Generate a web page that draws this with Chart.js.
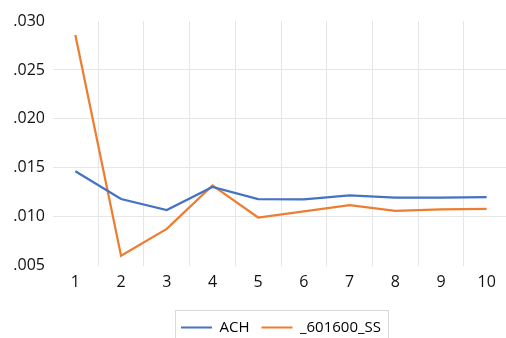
<!DOCTYPE html>
<html>
<head>
<meta charset="utf-8">
<script src="https://cdn.jsdelivr.net/npm/chart.js@4"></script>
<style>
  html, body { margin: 0; padding: 0; background: #fff; overflow: hidden; }
  #wrap { width: 520px; height: 346px; }
</style>
</head>
<body>
<div id="wrap"><canvas id="c" width="520" height="346"></canvas></div>
<script>
// Horizons and the two response series
const periods = ['1', '2', '3', '4', '5', '6', '7', '8', '9', '10'];
const achValues = [0.01465, 0.01182, 0.01069, 0.01305, 0.01182, 0.01178, 0.01219, 0.01195, 0.01195, 0.01202];
const ssValues = [0.02858, 0.00603, 0.00877, 0.01321, 0.00993, 0.01055, 0.01120, 0.01062, 0.01075, 0.01082];
const seriesNames = ['ACH', '_601600_SS'];
const yTickValues = [0.005, 0.010, 0.015, 0.020, 0.025, 0.030];

const FONT = "'Open Sans', 'DejaVu Sans', sans-serif";
const GRID = '#e6e6e6';

// Thin frame around the legend row
const legendFrame = {
  id: 'legendFrame',
  afterDraw(chart) {
    const boxes = chart.legend && chart.legend.legendHitBoxes;
    if (!boxes || !boxes.length) return;
    const left = Math.min(...boxes.map(b => b.left)) - 6;
    const right = Math.max(...boxes.map(b => b.left + b.width)) + 7;
    const top = boxes[0].top - 10.5;
    const ctx = chart.ctx;
    ctx.save();
    ctx.strokeStyle = '#d9d9d9';
    ctx.lineWidth = 1;
    ctx.strokeRect(Math.round(left) + 0.5, Math.round(top) + 0.5, Math.round(right - left), 40);
    ctx.restore();
  }
};

new Chart(document.getElementById('c'), {
  type: 'line',
  data: {
    labels: periods,
    datasets: [
      { label: seriesNames[0], data: achValues, borderColor: '#4472C4', backgroundColor: '#4472C4',
        borderWidth: 2.25, pointRadius: 0, tension: 0 },
      { label: seriesNames[1], data: ssValues, borderColor: '#ED7D31', backgroundColor: '#ED7D31',
        borderWidth: 2.25, pointRadius: 0, tension: 0 }
    ]
  },
  options: {
    responsive: false,
    animation: false,
    layout: { padding: { top: 21, right: 10.5, bottom: 1, left: 0 } },
    plugins: {
      tooltip: { enabled: false },
      legend: {
        position: 'bottom',
        fullSize: false,
        labels: {
          font: { family: FONT, size: 15 },
          color: '#111',
          boxWidth: 31,
          boxHeight: 2,
          padding: 12,
          generateLabels(chart) {
            return chart.data.datasets.map((ds, i) => ({
              text: ds.label,
              fillStyle: ds.borderColor,
              strokeStyle: ds.borderColor,
              lineWidth: 0,
              hidden: false,
              datasetIndex: i
            }));
          }
        }
      }
    },
    scales: {
      x: {
        type: 'category',
        offset: true,
        border: { display: false },
        grid: {
          offset: true,
          drawTicks: false,
          lineWidth: 1,
          color: ctx => (ctx.index === 0 ? 'rgba(0,0,0,0)' : GRID)
        },
        ticks: { font: { family: FONT, size: 16 }, color: '#111', padding: 7.5, maxRotation: 0 },
        afterFit(scale) { scale.height += 8; }
      },
      y: {
        min: 0.005,
        max: 0.030,
        border: { display: false },
        grid: {
          drawTicks: false,
          lineWidth: 1,
          color: ctx => {
            const v = ctx.tick ? ctx.tick.value : null;
            return (v === null || Math.abs(v - 0.005) < 1e-9 || Math.abs(v - 0.030) < 1e-9) ? 'rgba(0,0,0,0)' : GRID;
          }
        },
        afterBuildTicks(scale) { scale.ticks = yTickValues.map(v => ({ value: v })); },
        ticks: {
          font: { family: FONT, size: 16 },
          color: '#111',
          padding: 7.5,
          callback: v => Number(v).toFixed(3).replace(/^0/, '')
        },
        afterFit(scale) { scale.width = 52.5; }
      }
    }
  },
  plugins: [legendFrame]
});
</script>
</body>
</html>
